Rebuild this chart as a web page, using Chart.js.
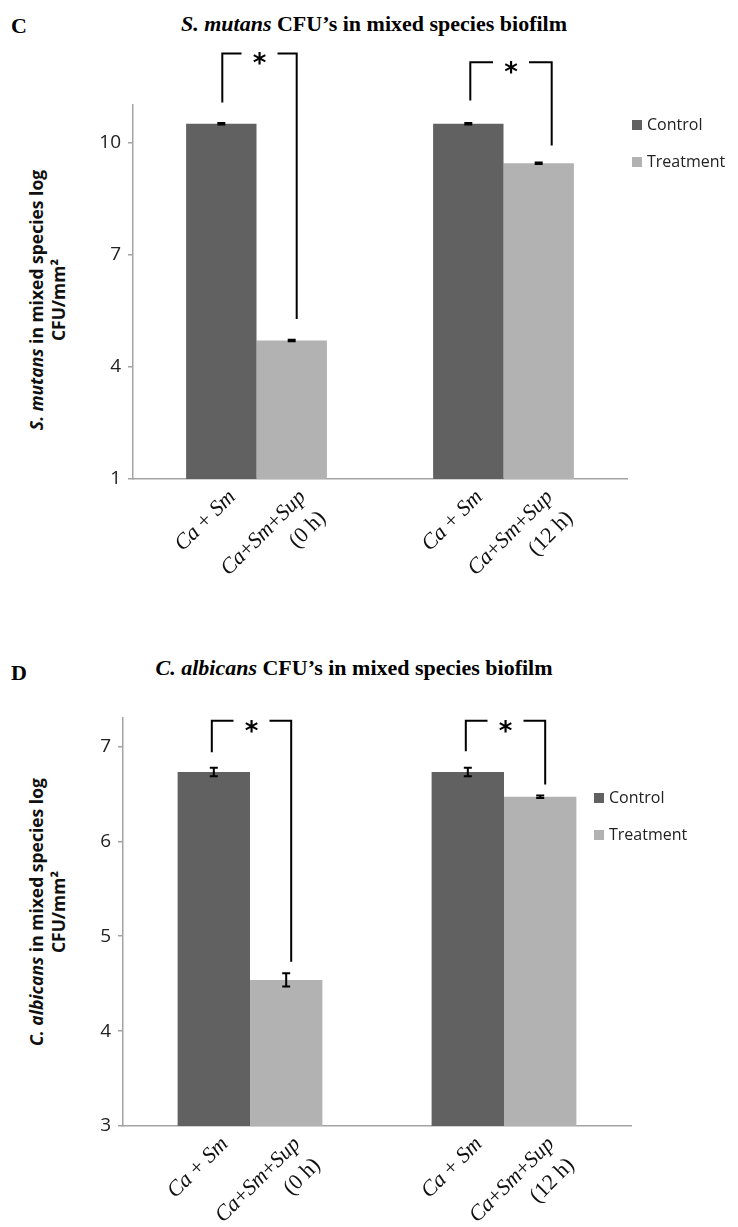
<!DOCTYPE html>
<html>
<head>
<meta charset="utf-8">
<script src="https://cdn.jsdelivr.net/npm/chart.js@4"></script>
<style>
  body { margin: 0; background: #fff; }
  #page { position: relative; width: 738px; height: 1227px; overflow: hidden; }
  canvas { position: absolute; left: 0; }
  .panel { position: absolute; font: bold 22px "Liberation Serif", "Times New Roman", serif; line-height: 22px; color: #000; }
  .title { position: absolute; font: bold 22px "Liberation Serif", "Times New Roman", serif; line-height: 22px; color: #000; white-space: nowrap; transform: translateX(-50%); }
  .ytitle { position: absolute; font: bold 17.5px "Open Sans", sans-serif; line-height: 22px; color: #111; text-align: center; white-space: nowrap; transform: translate(-50%, -50%) rotate(-90deg); }
</style>
</head>
<body>
<div id="page">
  <div class="panel" style="left:11px; top:15px;">C</div>
  <div class="title" style="left:374px; top:13px;"><i>S. mutans</i> CFU’s in mixed species biofilm</div>
  <div class="ytitle" style="left:47px; top:300px;"><i>S. mutans</i> in mixed species log<br>CFU/mm²</div>
  <canvas id="mutansChart" width="738" height="600" style="top:0; width:738px; height:600px;"></canvas>

  <div class="panel" style="left:11px; top:662px;">D</div>
  <div class="title" style="left:354px; top:657px;"><i>C. albicans</i> CFU’s in mixed species biofilm</div>
  <div class="ytitle" style="left:47px; top:912px;"><i>C. albicans</i> in mixed species log<br>CFU/mm²</div>
  <canvas id="albicansChart" width="738" height="627" style="top:600px; width:738px; height:627px;"></canvas>
</div>

<script>
// Nhóm thời điểm (mỗi nhóm có 1 cột Control và 1 cột Treatment)
const groups = ['0 h', '12 h'];
const seriesNames = ['Control', 'Treatment'];
const controlLabels = [['Ca + Sm'], ['Ca + Sm']];
const treatmentLabels = [['Ca+Sm+Sup', '(0 h)'], ['Ca+Sm+Sup', '(12 h)']];

// Biểu đồ C: S. mutans (log CFU/mm2)
const mutansControl = [10.5, 10.5];
const mutansTreatment = [4.7, 9.44];
const mutansControlErr = [0.02, 0.02];
const mutansTreatmentErr = [0.02, 0.02];
const mutansTicks = [1, 4, 7, 10];
// dấu * : đỉnh ngoặc, chân trái, chân phải (đơn vị trục y)
const mutansSigTop = [12.38, 12.14];
const mutansSigLeft = [11.07, 11.12];
const mutansSigRight = [5.28, 9.92];

// Biểu đồ D: C. albicans (log CFU/mm2)
const albicansControl = [6.73, 6.73];
const albicansTreatment = [4.54, 6.47];
const albicansControlErr = [0.045, 0.045];
const albicansTreatmentErr = [0.07, 0.012];
const albicansTicks = [3, 4, 5, 6, 7];
const albicansSigTop = [7.27, 7.27];
const albicansSigLeft = [6.94, 6.95];
const albicansSigRight = [4.73, 6.6];

const CONTROL_COLOR = '#616161';
const TREATMENT_COLOR = '#b2b2b2';
const AXIS_COLOR = '#a3a3a3';

// Vẽ chữ nghiêng cho các chữ cái, chữ thẳng cho dấu + ( ) số
function drawMixed(ctx, text, italicLetters, size, alignRight) {
    const runs = text.match(/[A-Za-z]+|[^A-Za-z]+/g) || [];
    const fontOf = r => ((italicLetters && /[A-Za-z]/.test(r)) ? 'italic ' : '') + size + 'px "Liberation Serif", "Times New Roman", serif';
    let total = 0;
    runs.forEach(r => { ctx.font = fontOf(r); total += ctx.measureText(r).width; });
    let x = alignRight ? -total : 0;
    runs.forEach(r => {
        ctx.font = fontOf(r);
        ctx.fillText(r, x, 0);
        x += ctx.measureText(r).width;
    });
}

// Plugin: thanh sai số, ngoặc có dấu *, nhãn trục x xoay, chú thích
const extrasPlugin = {
    id: 'extras',
    afterDatasetsDraw(chart, args, opts) {
        const ctx = chart.ctx;
        const yScale = chart.scales.y;
        ctx.save();

        // thanh sai số
        ctx.strokeStyle = '#000';
        ctx.lineWidth = 2;
        opts.errors.forEach((errs, i) => {
            const meta = chart.getDatasetMeta(i);
            const vals = chart.data.datasets[i].data;
            meta.data.forEach((bar, j) => {
                const yHi = yScale.getPixelForValue(vals[j] + errs[j]);
                const yLo = yScale.getPixelForValue(vals[j] - errs[j]);
                ctx.beginPath();
                ctx.moveTo(bar.x, yHi); ctx.lineTo(bar.x, yLo);
                ctx.moveTo(bar.x - 4, yHi); ctx.lineTo(bar.x + 4, yHi);
                ctx.moveTo(bar.x - 4, yLo); ctx.lineTo(bar.x + 4, yLo);
                ctx.stroke();
            });
        });

        // ngoặc so sánh có ý nghĩa
        const ctrlMeta = chart.getDatasetMeta(0);
        const trtMeta = chart.getDatasetMeta(1);
        ctx.lineWidth = 2;
        ctx.lineJoin = 'miter';
        ctx.lineCap = 'butt';
        ctx.fillStyle = '#000';
        opts.sigTop.forEach((top, j) => {
            const xL = ctrlMeta.data[j].x + opts.leftShift[j];
            const xR = trtMeta.data[j].x + opts.rightShift[j];
            const yT = yScale.getPixelForValue(top);
            const yL = yScale.getPixelForValue(opts.sigLeft[j]);
            const yR = yScale.getPixelForValue(opts.sigRight[j]);
            const xM = (xL + xR) / 2;
            ctx.beginPath();
            ctx.moveTo(xL, yL); ctx.lineTo(xL, yT); ctx.lineTo(xM - 18, yT);
            ctx.moveTo(xM + 18, yT); ctx.lineTo(xR, yT); ctx.lineTo(xR, yR);
            ctx.stroke();
            ctx.font = 'bold 26px "DejaVu Sans", sans-serif';
            ctx.textAlign = 'center';
            ctx.textBaseline = 'alphabetic';
            ctx.fillText('*', xM, yT + 19);
        });
        ctx.restore();
    },
    afterDraw(chart, args, opts) {
        const ctx = chart.ctx;
        const axisY = chart.chartArea.bottom;
        ctx.save();
        ctx.fillStyle = '#111';
        ctx.textBaseline = 'middle';
        ctx.textAlign = 'left';

        // nhãn từng cột, xoay -45 độ
        opts.barLabels.forEach((labels, i) => {
            const meta = chart.getDatasetMeta(i);
            meta.data.forEach((bar, j) => {
                labels[j].forEach((line, k) => {
                    ctx.save();
                    ctx.translate(bar.x + 11 + k * 20, axisY + 15 + k * 21);
                    ctx.rotate(-Math.PI / 4);
                    drawMixed(ctx, line, k === 0, 22, true);
                    ctx.restore();
                });
            });
        });

        // chú thích
        ctx.font = '16px "Open Sans", sans-serif';
        chart.data.datasets.forEach((ds, i) => {
            const y = opts.legendY + i * 37;
            ctx.fillStyle = ds.backgroundColor;
            ctx.fillRect(opts.legendX, y - 5, 10, 10);
            ctx.fillStyle = '#222';
            ctx.fillText(ds.label, opts.legendX + 15, y);
        });
        ctx.restore();
    }
};

function makeChart(canvasId, control, treatment, yMin, yMax, step, ticks, box, extras) {
    const ctx = document.getElementById(canvasId).getContext('2d');
    return new Chart(ctx, {
        type: 'bar',
        data: {
            labels: groups,
            datasets: [
                { label: seriesNames[0], data: control, backgroundColor: CONTROL_COLOR },
                { label: seriesNames[1], data: treatment, backgroundColor: TREATMENT_COLOR }
            ]
        },
        options: {
            responsive: false,
            animation: false,
            layout: { padding: { left: 0, right: box.right, top: box.top, bottom: 0 } },
            datasets: { bar: { categoryPercentage: 0.57, barPercentage: 1.0 } },
            scales: {
                x: {
                    grid: { display: false },
                    border: { display: true, color: AXIS_COLOR, width: 1.5 },
                    ticks: { display: false },
                    afterFit: scale => { scale.height = box.xHeight; }
                },
                y: {
                    min: yMin,
                    max: yMax,
                    grid: { drawOnChartArea: false, drawTicks: true, tickLength: 5, color: AXIS_COLOR, lineWidth: 1.5 },
                    border: { display: true, color: AXIS_COLOR, width: 1.5 },
                    ticks: {
                        stepSize: step,
                        includeBounds: false,
                        padding: 7,
                        color: '#222',
                        font: { family: '"Open Sans", sans-serif', size: 19 }
                    },
                    afterBuildTicks: scale => { scale.ticks = ticks.map(v => ({ value: v })); },
                    afterFit: scale => { scale.width = box.yWidth; }
                }
            },
            plugins: {
                legend: { display: false },
                tooltip: { enabled: false },
                extras: extras
            }
        },
        plugins: [extrasPlugin]
    });
}

makeChart('mutansChart', mutansControl, mutansTreatment, 1, 11, 3, mutansTicks,
    { right: 111, top: 105, xHeight: 121, yWidth: 133 },
    {
        errors: [mutansControlErr, mutansTreatmentErr],
        sigTop: mutansSigTop, sigLeft: mutansSigLeft, sigRight: mutansSigRight,
        leftShift: [1, 2], rightShift: [5, 13],
        barLabels: [controlLabels, treatmentLabels],
        legendX: 632, legendY: 125
    });

makeChart('albicansChart', albicansControl, albicansTreatment, 3, 7.3, 1, albicansTicks,
    { right: 107, top: 118, xHeight: 101, yWidth: 123 },
    {
        errors: [albicansControlErr, albicansTreatmentErr],
        sigTop: albicansSigTop, sigLeft: albicansSigLeft, sigRight: albicansSigRight,
        leftShift: [-2, -2], rightShift: [5, 5],
        barLabels: [controlLabels, treatmentLabels],
        legendX: 594, legendY: 198
    });
</script>
</body>
</html>
